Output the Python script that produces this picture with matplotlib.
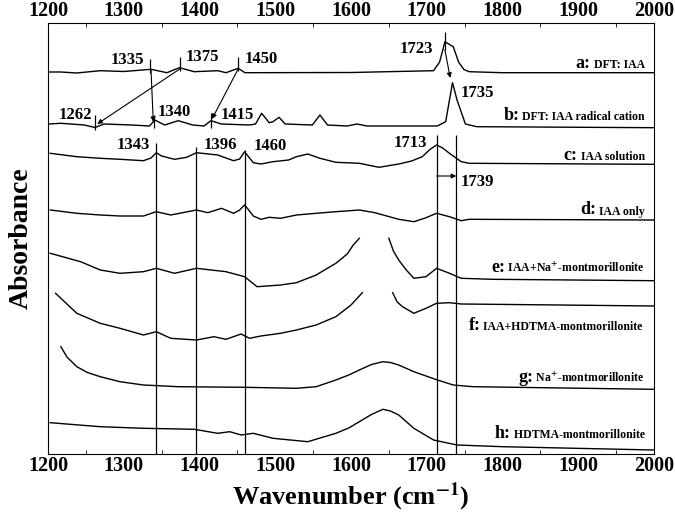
import numpy as np
import matplotlib.pyplot as plt
from matplotlib.ticker import MultipleLocator
from matplotlib.offsetbox import TextArea, HPacker, AnnotationBbox

plt.rcParams['font.family'] = ['Liberation Serif', 'DejaVu Serif']
plt.rcParams['font.weight'] = 'bold'
plt.rcParams['mathtext.fontset'] = 'stix'

nan = np.nan

# stacked spectra (wavenumber, offset absorbance)
a_x = [1200, 1217, 1238, 1269, 1300, 1336, 1357, 1373.5, 1393, 1424, 1435, 1451, 1460, 1600, 1709, 1717, 1724, 1735, 1742, 1749, 1756, 1800, 2000]
a_y = [382, 382, 381, 383.3, 382.5, 384.7, 381.3, 386.3, 382.3, 383.3, 381.3, 385.7, 381.3, 381.5, 383.3, 392, 412.3, 407.3, 392, 384.5, 382.3, 381.3, 381.3]

b_x = [1200, 1217, 1248, 1262, 1274, 1310, 1334, 1341, 1354, 1372, 1391, 1406, 1415, 1429, 1466, 1474, 1482, 1492, 1497, 1505,
       1513, 1549, 1559, 1569, 1595, 1608, 1621, 1714, 1725, 1734, 1740, 1751, 1766, 2000]
b_y = [330, 330.7, 329, 326.5, 330, 329, 328, 334, 329, 333.3, 329, 328, 333.3, 330, 329, 330, 340.7, 331.3, 332.3, 336.7,
       330, 329, 339, 329, 328, 330, 328, 328, 332.3, 371.3, 354, 330, 327.3, 326.3]

c_x = [1203, 1238, 1269, 1295, 1326, 1336, 1343, 1350, 1367, 1383, 1396, 1424, 1445, 1453, 1459.5, 1465, 1471, 1481, 1497, 1517.5, 1528, 1543, 1559,
       1580, 1611, 1637, 1663, 1680, 1694, 1705, 1713, 1721, 1730, 1745.5, 1756, 2000]
c_y = [300.7, 297.3, 295.7, 294.7, 293.3, 296, 301.3, 298, 294.7, 296.7, 301.3, 299, 293.3, 295, 302.3, 297, 291.3, 290, 292.3, 294, 297.3, 300, 295.7,
       291.7, 290.7, 286.7, 290, 293, 297.3, 305, 309, 306, 300.7, 292.3, 290.7, 289.7]

d_x = [1203, 1238, 1269, 1295, 1326, 1343, 1362, 1396, 1411, 1429, 1445, 1453, 1459.5, 1465, 1471, 1481, 1492, 1507, 1528, 1554, 1580,
       1611, 1631.5, 1663, 1683, 1698, 1713, 1730, 1745.5, 1756, 2000]
d_y = [244, 240.7, 239, 238, 238, 242.3, 239, 244, 241.3, 245.7, 240.7, 244, 249, 244, 238, 234.7, 236.7, 235.7, 239, 240.7, 242.3,
       244, 241.3, 234.7, 232.3, 236, 240.7, 237.3, 233.3, 234.7, 234]

e_x = [1203, 1243, 1269, 1295, 1326, 1343, 1367, 1396, 1435, 1459.5, 1476, 1507, 1528, 1554, 1580, 1595, 1603, 1611, nan,
       1650, 1656, 1663, 1673, 1683, 1699, 1713, 1730, 1745.5, 1787, 2000]
e_y = [200.7, 192.3, 184, 180.7, 182.3, 185.7, 180.7, 185.7, 182.3, 177.3, 167.3, 169, 171.3, 179, 190.7, 200, 209, 215.7, nan,
       215.7, 203, 194, 184, 175.7, 177.3, 185.7, 180.7, 175.7, 174.7, 173.3]

f_x = [1210, 1217, 1238, 1269, 1295, 1326, 1343, 1362, 1396, 1419, 1435, 1455, 1466, 1481, 1507, 1528, 1554, 1580, 1600, 1615, nan,
       1655, 1661, 1668, 1683, 1699, 1713, 1730, 1745.5, 1787, 2000]
f_y = [160.7, 155.7, 140.7, 130.7, 125.7, 119, 122.3, 115.7, 114, 117.3, 114.7, 120, 115.7, 118, 120.7, 124, 129, 137.3, 149, 161.3, nan,
       161.3, 152, 147.3, 140.7, 145.7, 150.7, 151.3, 150, 149.7, 148]

g_x = [1217, 1225, 1238, 1252, 1269, 1295, 1326, 1372, 1460, 1528, 1554, 1580, 1597, 1611, 1627, 1642, 1652, 1663, 1683, 1714, 1735, 1761, 2000]
g_y = [107.3, 97, 87.3, 81.5, 77.3, 72.3, 69, 67.3, 66.7, 65.7, 67.3, 74, 79, 84, 89.5, 92.3, 91.5, 89, 82.3, 74, 69, 67.3, 64.7]

h_x = [1203, 1269, 1326, 1393, 1424, 1440, 1455, 1471, 1497, 1543, 1580, 1597, 1611, 1627, 1642, 1652, 1663, 1683, 1709, 1740, 1800, 2000]
h_y = [31.3, 27.3, 25.7, 24.7, 20.7, 22.3, 19, 20.7, 15.7, 12.3, 20.7, 26, 32.3, 39.5, 44.7, 43, 39, 25.7, 14, 9, 7.3, 4]

series = [(a_x, a_y), (b_x, b_y), (c_x, c_y), (d_x, d_y), (e_x, e_y), (f_x, f_y), (g_x, g_y), (h_x, h_y)]

tag_letters = ['a', 'b', 'c', 'd', 'e', 'f', 'g', 'h']
tag_texts = ['DFT: IAA', 'DFT: IAA radical cation', 'IAA solution', 'IAA only',
             r'IAA+Na$^{\mathbf{+}}$-montmorillonite', 'IAA+HDTMA-montmorillonite',
             r'Na$^{\mathbf{+}}$-montmorillonite', 'HDTMA-montmorillonite']
tag_y = [391, 338, 299, 244, 186, 128, 76, 21]
tag_right = [1988, 1988, 1988, 1988, 1988, 1985, 1988, 1988]

# peak assignments
vline_x = [1343, 1396, 1460, 1713, 1739]
vline_top = [311, 307, 304, 319, 319]

peak_lbl = ['1335', '1375', '1450', '1723', '1262', '1340', '1415', '1735', '1343', '1396', '1460', '1713', '1739']
peak_lbl_x = [1305, 1404, 1481, 1686, 1236, 1367, 1450, 1767, 1313, 1427, 1493, 1678, 1767]
peak_lbl_y = [394, 397, 395, 405, 339, 342, 339, 361, 309, 309, 308, 311, 272]

mark_x = [1335, 1374, 1451, 1724, 1262, 1340, 1415]
mark_lo = [381, 383, 383, 404, 324, 326, 326]
mark_hi = [395, 397, 397, 422, 339, 339, 341]

arrow_from = [(1336, 384), (1374, 385), (1451, 385), (1724, 404), (1713, 278)]
arrow_to = [(1339, 332), (1265, 330), (1416.5, 335), (1731, 376), (1739, 278)]

fig = plt.figure(figsize=(6.75, 5.16), dpi=100)
ax = fig.add_axes([48 / 675, 62 / 516, 606 / 675, 431 / 516])

for xs, ys in series:
    ax.plot(xs, ys, color='black', lw=1.0)

ax.vlines(vline_x, 0, vline_top, color='black', lw=0.9)
ax.vlines(mark_x, mark_lo, mark_hi, color='black', lw=0.9)

for p0, p1 in zip(arrow_from, arrow_to):
    ax.annotate('', xy=p1, xytext=p0,
                arrowprops=dict(arrowstyle='-|>', color='black', lw=0.8,
                                mutation_scale=7, shrinkA=0, shrinkB=0))

for s, x, y in zip(peak_lbl, peak_lbl_x, peak_lbl_y):
    ax.text(x, y, s, fontsize=12, fontweight='bold', ha='center', va='center')

for let, txt, y, xr in zip(tag_letters, tag_texts, tag_y, tag_right):
    t1 = TextArea(let + ':', textprops=dict(fontsize=13, fontweight='bold'))
    t2 = TextArea(' ' + txt, textprops=dict(fontsize=8.5, fontweight='bold'))
    box = HPacker(children=[t1, t2], align='baseline', pad=0, sep=0)
    ab = AnnotationBbox(box, (xr, y), xycoords='data', box_alignment=(1, 0.5),
                        frameon=False, pad=0)
    ax.add_artist(ab)

ax.set_xlim(1200, 2000)
ax.set_ylim(0, 431)
ax.xaxis.set_major_locator(MultipleLocator(100))
ax.xaxis.set_minor_locator(MultipleLocator(50))
ax.tick_params(axis='x', which='major', length=0, labelsize=14.5, pad=1.5,
               top=True, labeltop=True)
ax.tick_params(axis='x', which='minor', length=3, direction='in', top=True)
ax.set_yticks([])
for lab in ax.get_xticklabels():
    lab.set_fontweight('bold')

ax.set_xlabel(r'Wavenumber (cm$^{\mathbf{-1}}$)', fontsize=19, fontweight='bold', labelpad=3)
ax.set_ylabel('Absorbance', fontsize=20, fontweight='bold', labelpad=10)

fig.savefig('out.png', dpi=100)
